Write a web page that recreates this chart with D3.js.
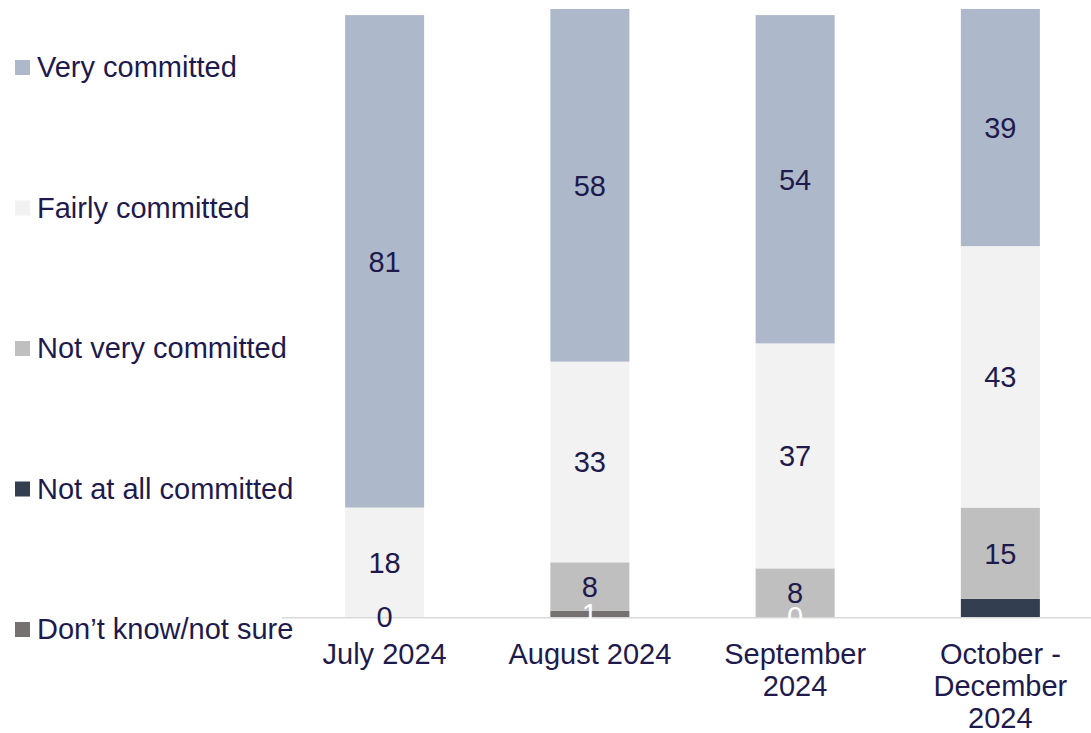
<!DOCTYPE html>
<html>
<head>
<meta charset="utf-8">
<script src="https://cdn.jsdelivr.net/npm/d3@7"></script>
<style>
  html, body { margin: 0; padding: 0; background: #ffffff; }
  svg { display: block; font-family: "Liberation Sans", Arial, sans-serif; }
</style>
</head>
<body>
<svg id="chart" width="1091" height="733"></svg>
<script>
// Periods on the x axis (multi-line labels)
const categories = ["July 2024", "August 2024", "September 2024", "October - December 2024"];
const categoryLines = [["July 2024"], ["August 2024"], ["September", "2024"], ["October -", "December", "2024"]];

// Series values (%), stacked bottom to top
const dontKnow      = [null, 1, 0, null];
const notAtAll      = [0, 0, 0, 3];
const notVery       = [0, 8, 8, 15];
const fairly        = [18, 33, 37, 43];
const very          = [81, 58, 54, 39];

const seriesNames   = ["Don’t know/not sure", "Not at all committed", "Not very committed", "Fairly committed", "Very committed"];
const seriesValues  = [dontKnow, notAtAll, notVery, fairly, very];
const seriesColors  = ["#767171", "#333f50", "#bfbfbf", "#f2f2f2", "#adb9ca"];
const labelColors   = ["#ffffff", "#ffffff", "#1e1a4d", "#1e1a4d", "#1e1a4d"];
const showLabels    = [true, false, true, true, true];

const textColor = "#1e1a4d";
const fontSize = 29;
const svg = d3.select("#chart");

const x = d3.scaleBand()
  .domain(categories)
  .range([282, 1103])
  .paddingInner(0.615)
  .paddingOuter(0.3075);

const y = d3.scaleLinear().domain([0, 100]).range([617, 9]);

// Build stacked segments
const rows = categories.map((c, i) => {
  const r = { cat: c };
  seriesNames.forEach((s, j) => { r[s] = seriesValues[j][i] == null ? 0 : seriesValues[j][i]; });
  return r;
});
const stacked = d3.stack().keys(seriesNames)(rows);

const layers = svg.append("g").selectAll("g")
  .data(stacked)
  .join("g")
  .attr("fill", (d, j) => seriesColors[j]);

layers.selectAll("rect")
  .data(d => d)
  .join("rect")
  .attr("x", d => x(d.data.cat))
  .attr("width", x.bandwidth())
  .attr("y", d => y(d[1]))
  .attr("height", d => y(d[0]) - y(d[1]));

// Category axis line
svg.append("line")
  .attr("x1", x.range()[0]).attr("x2", 1091)
  .attr("y1", y(0) + 0.75).attr("y2", y(0) + 0.75)
  .attr("stroke", "#d9d9d9").attr("stroke-width", 1.5);

// Value labels
const labels = svg.append("g")
  .attr("font-size", fontSize)
  .attr("text-anchor", "middle");
stacked.forEach((layer, j) => {
  if (!showLabels[j]) return;
  layer.forEach((d, i) => {
    const v = seriesValues[j][i];
    if (v == null) return;
    labels.append("text")
      .attr("x", x(d.data.cat) + x.bandwidth() / 2)
      .attr("y", (y(d[0]) + y(d[1])) / 2)
      .attr("dy", "0.36em")
      .attr("fill", labelColors[j])
      .text(v);
  });
});

// Category tick labels
const ticks = svg.append("g")
  .attr("font-size", fontSize)
  .attr("fill", textColor)
  .attr("text-anchor", "middle");
categories.forEach((c, i) => {
  const t = ticks.append("text")
    .attr("x", x(c) + x.bandwidth() / 2)
    .attr("y", 664);
  categoryLines[i].forEach((line, k) => {
    t.append("tspan")
      .attr("x", x(c) + x.bandwidth() / 2)
      .attr("dy", k === 0 ? 0 : 32)
      .text(line);
  });
});

// Legend (top to bottom: Very committed ... Don't know)
const legendOrder = seriesNames.slice().reverse();
const legendColors = seriesColors.slice().reverse();
const legend = svg.append("g");
legendOrder.forEach((name, k) => {
  const base = 77 + k * 140.5;
  legend.append("rect")
    .attr("x", 15).attr("y", base - 17)
    .attr("width", 15).attr("height", 15)
    .attr("fill", legendColors[k]);
  legend.append("text")
    .attr("x", 37).attr("y", base)
    .attr("font-size", fontSize)
    .attr("fill", textColor)
    .text(name);
});
</script>
</body>
</html>
